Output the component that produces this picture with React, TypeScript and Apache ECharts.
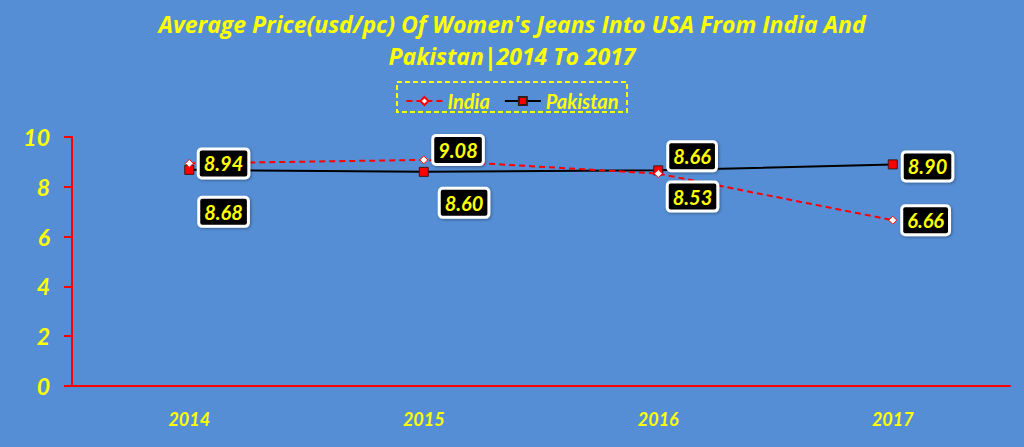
import React, { useEffect, useRef } from "react";
import * as echarts from "echarts";

const years = ["2014", "2015", "2016", "2017"];
const india = [8.94, 9.08, 8.53, 6.66];
const pakistan = [8.68, 8.6, 8.66, 8.9];
const yTicks = [0, 2, 4, 6, 8, 10];

const indiaOffsets = [[0, 0], [0, -10], [0, 23], [0, 0]];
const pakistanOffsets = [[0, 42], [6, 31], [0, -14], [0, 2]];

const YELLOW = "#FFFF00";
const FONT = "Lato, 'Liberation Sans', sans-serif";

const labelStyle = {
  show: true,
  position: "right",
  distance: 6,
  color: YELLOW,
  fontFamily: FONT,
  fontWeight: "bold",
  fontStyle: "italic",
  fontSize: 20,
  backgroundColor: "#000000",
  borderColor: "#FFFFFF",
  borderWidth: 3,
  borderRadius: 2,
  padding: [4, 4, 2, 4],
  shadowColor: "rgba(0,0,0,0.35)",
  shadowBlur: 3,
  shadowOffsetX: 1,
  shadowOffsetY: 1,
  formatter: (p: any) => p.value.toFixed(2),
};

export default function App() {
  const ref = useRef<HTMLDivElement>(null);
  useEffect(() => {
    const chart = echarts.init(ref.current!, null, { renderer: "svg" });
    chart.setOption({
      animation: false,
      backgroundColor: "#558ED5",
      title: {
        text: "Average Price(usd/pc) Of Women's Jeans Into USA From India And\nPakistan|2014 To 2017",
        left: "center",
        top: 3,
        textStyle: {
          color: YELLOW,
          fontFamily: "'Open Sans', Lato, sans-serif",
          fontWeight: "bold",
          fontStyle: "italic",
          fontSize: 23,
          lineHeight: 32,
        },
      },
      legend: {
        top: 86,
        left: "center",
        itemGap: 14,
        itemWidth: 36,
        itemHeight: 10,
        textStyle: {
          color: YELLOW,
          fontFamily: FONT,
          fontWeight: "bold",
          fontStyle: "italic",
          fontSize: 20,
        },
        data: [
          { name: "India" },
          { name: "Pakistan" },
        ],
      },
      graphic: [
        {
          type: "rect",
          shape: { x: 397, y: 82, width: 230, height: 30 },
          style: { fill: "none", stroke: YELLOW, lineWidth: 2, lineDash: [5, 3] },
          silent: true,
        },
      ],
      grid: { left: 72, right: 14, top: 137, bottom: 61 },
      xAxis: {
        type: "category",
        data: years,
        boundaryGap: true,
        axisLine: { lineStyle: { color: "#FF0000", width: 2 } },
        axisTick: { show: false },
        axisLabel: {
          color: YELLOW,
          fontFamily: FONT,
          fontWeight: "bold",
          fontStyle: "italic",
          fontSize: 18,
          margin: 24,
        },
      },
      yAxis: {
        type: "value",
        min: yTicks[0],
        max: yTicks[yTicks.length - 1],
        interval: 2,
        splitLine: { show: false },
        axisLine: { show: true, lineStyle: { color: "#FF0000", width: 2 } },
        axisTick: { show: true, length: 8, lineStyle: { color: "#FF0000", width: 2 } },
        axisLabel: {
          color: YELLOW,
          fontFamily: FONT,
          fontWeight: "bold",
          fontStyle: "italic",
          fontSize: 23,
          margin: 22,
        },
      },
      series: [
        {
          name: "India",
          type: "line",
          z: 3,
          data: india.map((v, i) => ({
            value: v,
            label: { ...labelStyle, offset: indiaOffsets[i] },
          })),
          lineStyle: { color: "#FF0000", width: 2, type: [6, 4] },
          itemStyle: { color: "#FFFFFF", borderColor: "#FF0000", borderWidth: 1 },
          symbol: "diamond",
          symbolSize: 8,
          label: labelStyle,
        },
        {
          name: "Pakistan",
          type: "line",
          z: 2,
          data: pakistan.map((v, i) => ({
            value: v,
            label: { ...labelStyle, offset: pakistanOffsets[i] },
          })),
          lineStyle: { color: "#000000", width: 2 },
          itemStyle: { color: "#FF0000", borderColor: "#3A1A1A", borderWidth: 1 },
          symbol: "rect",
          symbolSize: 9,
          label: labelStyle,
        },
      ],
    });
    return () => chart.dispose();
  }, []);
  return (
    <div
      ref={ref}
      style={{ position: "absolute", left: 0, top: 0, width: 1024, height: 447 }}
    />
  );
}
